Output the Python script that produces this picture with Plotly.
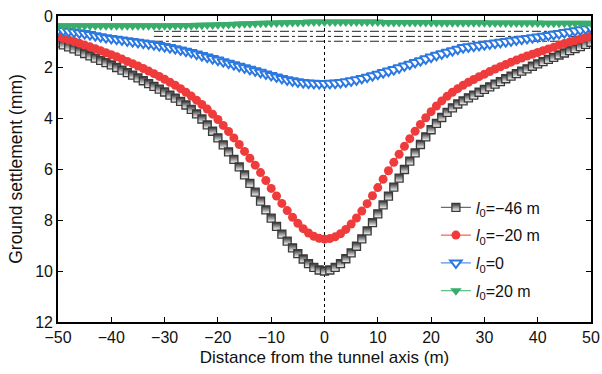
import plotly.graph_objects as go

x_dist = list(range(-50, 51))

s_l0_m46 = [1.05, 1.13, 1.21, 1.29, 1.38, 1.47, 1.56, 1.65, 1.74, 1.83,
            1.92, 2.02, 2.12, 2.22, 2.32, 2.43, 2.54, 2.65, 2.76, 2.87,
            2.98, 3.10, 3.22, 3.35, 3.49, 3.66, 3.84, 4.04, 4.27, 4.52,
            4.78, 5.05, 5.33, 5.62, 5.92, 6.23, 6.56, 6.91, 7.26, 7.60,
            7.93, 8.25, 8.55, 8.83, 9.09, 9.32, 9.53, 9.71, 9.86, 9.96,
            10.00,
            9.96, 9.86, 9.71, 9.52, 9.29, 9.03, 8.74, 8.43, 8.10, 7.76,
            7.41, 7.06, 6.71, 6.36, 6.02, 5.69, 5.37, 5.04, 4.74, 4.46,
            4.21, 3.98, 3.78, 3.60, 3.45, 3.33, 3.21, 3.10, 2.99, 2.88,
            2.78, 2.67, 2.57, 2.46, 2.36, 2.26, 2.16, 2.07, 1.97, 1.88,
            1.79, 1.70, 1.62, 1.53, 1.45, 1.36, 1.28, 1.20, 1.11, 1.03]

s_l0_m20 = [0.82, 0.88, 0.94, 1.00, 1.07, 1.14, 1.21, 1.28, 1.36, 1.44,
            1.52, 1.60, 1.69, 1.78, 1.87, 1.96, 2.06, 2.16, 2.26, 2.37,
            2.48, 2.60, 2.72, 2.85, 2.99, 3.14, 3.30, 3.47, 3.65, 3.85,
            4.06, 4.29, 4.53, 4.78, 5.04, 5.31, 5.58, 5.85, 6.14, 6.45,
            6.76, 7.06, 7.35, 7.63, 7.89, 8.13, 8.34, 8.51, 8.64, 8.72,
            8.75,
            8.73, 8.66, 8.54, 8.37, 8.16, 7.92, 7.65, 7.36, 7.05, 6.73,
            6.40, 6.07, 5.74, 5.42, 5.11, 4.81, 4.52, 4.25, 3.99, 3.75,
            3.53, 3.33, 3.15, 2.99, 2.85, 2.72, 2.60, 2.49, 2.38, 2.28,
            2.18, 2.08, 1.99, 1.90, 1.81, 1.73, 1.65, 1.57, 1.50, 1.43,
            1.36, 1.29, 1.23, 1.14, 1.08, 1.02, 0.96, 0.90, 0.84, 0.78]

s_l0_0 = [0.55, 0.57, 0.60, 0.63, 0.66, 0.69, 0.73, 0.77, 0.81, 0.85,
          0.88, 0.91, 0.94, 0.97, 1.00, 1.03, 1.06, 1.09, 1.12, 1.16,
          1.20, 1.24, 1.28, 1.33, 1.38, 1.43, 1.49, 1.55, 1.61, 1.67,
          1.73, 1.79, 1.85, 1.91, 1.97, 2.03, 2.09, 2.15, 2.21, 2.27,
          2.33, 2.39, 2.45, 2.50, 2.54, 2.58, 2.61, 2.63, 2.64, 2.65,
          2.65,
          2.64, 2.63, 2.61, 2.58, 2.54, 2.50, 2.45, 2.40, 2.34, 2.28,
          2.22, 2.16, 2.10, 2.03, 1.96, 1.89, 1.82, 1.75, 1.68, 1.61,
          1.54, 1.48, 1.42, 1.36, 1.30, 1.24, 1.21, 1.18, 1.15, 1.12,
          1.09, 1.06, 1.03, 1.00, 0.97, 0.94, 0.91, 0.88, 0.85, 0.82,
          0.79, 0.76, 0.72, 0.69, 0.65, 0.62, 0.58, 0.54, 0.50, 0.46]

s_l0_p20 = [0.38, 0.38, 0.38, 0.38, 0.38, 0.38, 0.38, 0.38, 0.38, 0.38,
            0.38, 0.38, 0.38, 0.38, 0.38, 0.38, 0.38, 0.38, 0.38, 0.38,
            0.38, 0.38, 0.37, 0.37, 0.37, 0.37, 0.36, 0.36, 0.35, 0.35,
            0.34, 0.33, 0.33, 0.32, 0.31, 0.30, 0.30, 0.29, 0.28, 0.28,
            0.27, 0.27, 0.26, 0.26, 0.25, 0.25, 0.25, 0.24, 0.24, 0.24,
            0.24,
            0.24, 0.24, 0.24, 0.24, 0.24, 0.24, 0.24, 0.24, 0.24, 0.24,
            0.25, 0.25, 0.25, 0.25, 0.25, 0.25, 0.25, 0.25, 0.25, 0.25,
            0.26, 0.26, 0.26, 0.26, 0.26, 0.26, 0.26, 0.26, 0.26, 0.26,
            0.27, 0.27, 0.27, 0.27, 0.27, 0.27, 0.27, 0.27, 0.27, 0.27,
            0.28, 0.28, 0.28, 0.28, 0.28, 0.28, 0.28, 0.28, 0.28, 0.28]

ref_levels = [0.60, 0.80, 0.99]
ref_x_start = -32
x_ticks = [-50, -40, -30, -20, -10, 0, 10, 20, 30, 40, 50]
y_ticks = [0, 2, 4, 6, 8, 10, 12]

FONT = "Arial, Liberation Sans, sans-serif"

fig = go.Figure()

fig.add_trace(go.Scatter(
    x=x_dist, y=s_l0_m46, mode="lines+markers", legendgroup="a",
    name="<i>l</i><sub>0</sub>=\u221246 m",
    line=dict(color="#4a4a4a", width=1),
    marker=dict(symbol="square", size=8, color="#2e2e2e",
                gradient=dict(type="vertical", color="#ffffff"),
                line=dict(color="#3a3a3a", width=1.3)),
))
fig.add_trace(go.Scatter(
    x=x_dist, y=s_l0_m20, mode="lines+markers", legendgroup="b",
    name="<i>l</i><sub>0</sub>=\u221220 m",
    line=dict(color="#ef3b3b", width=1),
    marker=dict(symbol="circle", size=9, color="#ef3b3b",
                line=dict(width=0)),
))
fig.add_trace(go.Scatter(
    x=x_dist, y=s_l0_0, mode="lines+markers", legendgroup="c",
    name="<i>l</i><sub>0</sub>=0",
    line=dict(color="#2b78e0", width=1),
    marker=dict(symbol="triangle-down", size=10, color="white",
                line=dict(color="#2b78e0", width=2)),
))
fig.add_trace(go.Scatter(
    x=x_dist, y=s_l0_p20, mode="lines+markers", legendgroup="d",
    name="<i>l</i><sub>0</sub>=20 m",
    line=dict(color="#38ad6b", width=1),
    marker=dict(symbol="triangle-down", size=10, color="#38ad6b",
                line=dict(width=0)),
))

for lv in ref_levels:
    fig.add_shape(type="line", xref="x", yref="y", x0=ref_x_start, x1=50,
                  y0=lv, y1=lv, layer="below",
                  line=dict(color="#222222", width=1, dash="dashdot"))

fig.add_shape(type="line", xref="x", yref="y", x0=0, x1=0, y0=0, y1=12,
              layer="below", line=dict(color="#000000", width=1, dash="dot"))

axis_common = dict(
    showline=True, linecolor="#000000", linewidth=1.6, mirror="ticks",
    ticks="inside", ticklen=5, tickwidth=1.2, tickcolor="#000000",
    showgrid=False, zeroline=False, automargin=False,
    tickfont=dict(family=FONT, size=16, color="#111111"),
)

fig.update_layout(
    width=602, height=374,
    margin=dict(l=58, r=11, t=16, b=52),
    paper_bgcolor="white", plot_bgcolor="white",
    font=dict(family=FONT, size=16, color="#111111"),
    showlegend=True,
    legend=dict(x=0.709, y=0.43, xanchor="left", yanchor="top",
                bgcolor="rgba(0,0,0,0)", borderwidth=0,
                font=dict(family=FONT, size=16, color="#111111"),
                tracegroupgap=4),
    xaxis=dict(range=[-50, 50], tickvals=x_ticks,
               title=dict(text="Distance from the tunnel axis (m)",
                          font=dict(family=FONT, size=17), standoff=6),
               **axis_common),
    yaxis=dict(range=[12, 0], tickvals=y_ticks,
               title=dict(text="Ground settlement (mm)",
                          font=dict(family=FONT, size=17.5), standoff=8),
               **axis_common),
)

fig.write_html(
    "out.html",
    config={"displayModeBar": False},
    post_script="document.body.style.margin='0';"
                "document.body.style.overflow='hidden';",
)
